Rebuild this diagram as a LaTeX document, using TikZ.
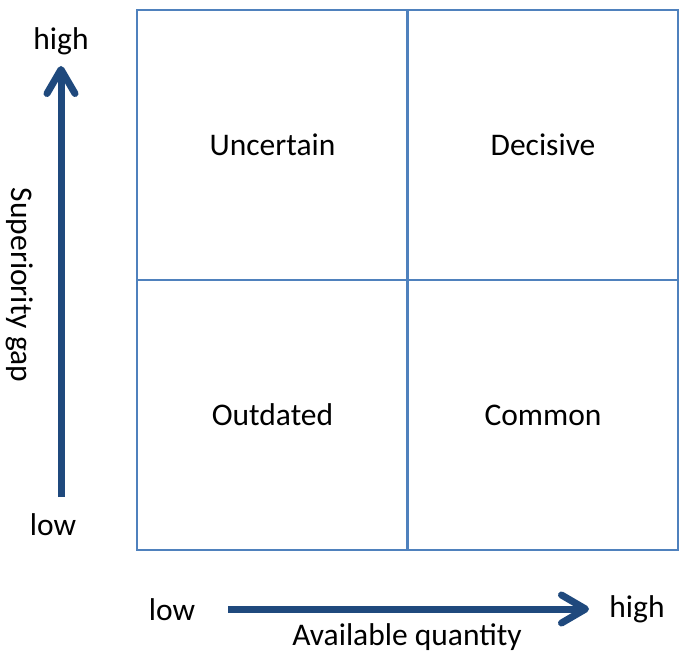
\documentclass[tikz,border=0pt]{standalone}
\usepackage{fontspec}
\setmainfont{Carlito}
\usetikzlibrary{arrows.meta}

\definecolor{gridblue}{RGB}{79,129,189}
\definecolor{axisblue}{RGB}{31,73,125}

\begin{document}
\begin{tikzpicture}[x=1pt,y=-1pt]
  \tikzset{CellStyle/.style = {
    shape         = rectangle,
    draw          = gridblue,
    line width    = 2.5pt,
    text          = black,
    inner sep     = 0pt,
    minimum width = 271pt,
    minimum height= 270pt,
    font          = \fontsize{31.5}{36}\selectfont
    }
  }
  \tikzset{AxisStyle/.style = {
    draw          = axisblue,
    line width    = 7pt,
    -{Straight Barb[length=24pt,width=28pt,round]}
    }
  }
  \tikzset{LabelStyle/.style = {
    text          = black,
    inner sep     = 0pt,
    font          = \fontsize{31.5}{36}\selectfont
    }
  }
  \useasboundingbox (0,0) rectangle (679,655);

  % quadrants
  \node[CellStyle](UL) at (272.5,145) {Uncertain};
  \node[CellStyle](UR) at (543,145) {Decisive};
  \node[CellStyle](LL) at (272.5,415) {Outdated};
  \node[CellStyle](LR) at (543,415) {Common};

  % vertical axis
  \node[LabelStyle](YHigh) at (61,41) {high};
  \node[LabelStyle](YLow) at (53,525) {low};
  \node[LabelStyle, rotate=-90](YName) at (20,285) {Superiority gap};
  \coordinate (YFrom) at (61,497);
  \coordinate (YTo) at (61,66);
  \draw[AxisStyle](YFrom) -- (YTo);

  % horizontal axis
  \node[LabelStyle](XLow) at (172,610) {low};
  \node[LabelStyle](XHigh) at (637,609) {high};
  \node[LabelStyle](XName) at (407,637) {Available quantity};
  \coordinate (XFrom) at (228,609);
  \coordinate (XTo) at (589,609);
  \draw[AxisStyle](XFrom) -- (XTo);
\end{tikzpicture}
\end{document}
